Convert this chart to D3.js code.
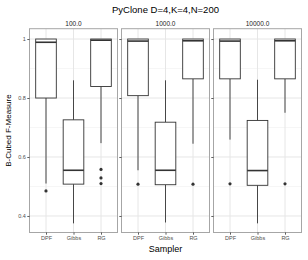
<!DOCTYPE html>
<html lang="en">
<head>
<meta charset="UTF-8">
<title>PyClone boxplots</title>
<script src="https://d3js.org/d3.v7.min.js"></script>
<style>
  body { margin: 0; background: #fff; }
  text { font-family: "Liberation Sans", Arial, sans-serif; }
</style>
</head>
<body>
<svg id="chart" width="308" height="260"></svg>
<script>
// facet labels and categories
const panels = ["100.0", "1000.0", "10000.0"];
const samplers = ["DPF", "Gibbs", "RG"];

// box stats per panel, per sampler (DPF, Gibbs, RG)
const whiskerLow = [[0.51, 0.375, 0.647], [0.555, 0.378, 0.645], [0.659, 0.375, 0.75]];
const q1 = [[0.80, 0.508, 0.839], [0.808, 0.506, 0.865], [0.865, 0.504, 0.865]];
const median = [[0.989, 0.555, 0.996], [0.993, 0.555, 0.994], [0.993, 0.554, 0.994]];
const q3 = [[1.0, 0.726, 1.0], [1.0, 0.718, 1.0], [1.0, 0.724, 1.0]];
const whiskerHigh = [[1.0, 0.86, 1.0], [1.0, 0.86, 1.0], [1.0, 0.862, 1.0]];
const outliers = [[[0.485], [], [0.558, 0.529, 0.51]], [[0.508], [], [0.508]], [[0.509], [], [0.509]]];

const yTicks = [0.4, 0.6, 0.8, 1.0];
const yMinor = [0.5, 0.7, 0.9];

const svg = d3.select("#chart");
const panelLeft = 29.5, panelW = 88, gap = 4, panelTop = 28.7, panelBottom = 232.5;

const y = d3.scaleLinear().domain([0.344, 1.035]).range([panelBottom, panelTop]);

// title
svg.append("text")
    .attr("x", 165.5).attr("y", 13)
    .attr("text-anchor", "middle")
    .style("font-size", "9.5px")
    .attr("fill", "#000")
    .text("PyClone D=4,K=4,N=200");

panels.forEach((p, pi) => {
    const x0 = panelLeft + pi * (panelW + gap);
    // 0.6 expansion on each side of the 3 categories, like ggplot
    const x = d3.scalePoint().domain(samplers).range([x0, x0 + panelW]).padding(0.6);
    const step = x.step();
    const bw = step * 0.75;

    const g = svg.append("g");

    g.append("rect").attr("x", x0).attr("y", panelTop).attr("width", panelW).attr("height", panelBottom - panelTop)
        .attr("fill", "#fff");

    // minor grid
    g.selectAll(".minor").data(yMinor).enter().append("line")
        .attr("x1", x0).attr("x2", x0 + panelW)
        .attr("y1", d => y(d)).attr("y2", d => y(d))
        .attr("stroke", "#f0f0f0").attr("stroke-width", 0.6);
    // major grid
    g.selectAll(".major").data(yTicks).enter().append("line")
        .attr("x1", x0).attr("x2", x0 + panelW)
        .attr("y1", d => y(d)).attr("y2", d => y(d))
        .attr("stroke", "#e6e6e6").attr("stroke-width", 1);
    g.selectAll(".vgrid").data(samplers).enter().append("line")
        .attr("x1", d => x(d)).attr("x2", d => x(d))
        .attr("y1", panelTop).attr("y2", panelBottom)
        .attr("stroke", "#e6e6e6").attr("stroke-width", 1);

    // boxes
    samplers.forEach((s, si) => {
        const cx = x(s);
        const col = "#333333";
        g.append("line").attr("x1", cx).attr("x2", cx)
            .attr("y1", y(q3[pi][si])).attr("y2", y(whiskerHigh[pi][si]))
            .attr("stroke", col).attr("stroke-width", 0.9);
        g.append("line").attr("x1", cx).attr("x2", cx)
            .attr("y1", y(q1[pi][si])).attr("y2", y(whiskerLow[pi][si]))
            .attr("stroke", col).attr("stroke-width", 0.9);
        g.append("rect")
            .attr("x", cx - bw / 2).attr("width", bw)
            .attr("y", y(q3[pi][si])).attr("height", y(q1[pi][si]) - y(q3[pi][si]))
            .attr("fill", "#fff").attr("stroke", col).attr("stroke-width", 0.9);
        g.append("line").attr("x1", cx - bw / 2).attr("x2", cx + bw / 2)
            .attr("y1", y(median[pi][si])).attr("y2", y(median[pi][si]))
            .attr("stroke", col).attr("stroke-width", 1.6);
        g.selectAll(null).data(outliers[pi][si]).enter().append("circle")
            .attr("cx", cx).attr("cy", d => y(d)).attr("r", 1.6)
            .attr("fill", col);
    });

    // border
    g.append("rect").attr("x", x0).attr("y", panelTop).attr("width", panelW).attr("height", panelBottom - panelTop)
        .attr("fill", "none").attr("stroke", "#a6a6a6").attr("stroke-width", 1);

    // strip label
    g.append("text").attr("x", x0 + panelW / 2).attr("y", 26)
        .attr("text-anchor", "middle").style("font-size", "6.5px").attr("fill", "#1a1a1a")
        .text(p);

    // x axis
    const xa = svg.append("g").attr("transform", `translate(0,${panelBottom})`)
        .call(d3.axisBottom(x).tickSize(2.2).tickPadding(1.5));
    xa.select(".domain").remove();
    xa.selectAll(".tick line").attr("stroke", "#333").attr("stroke-width", 0.8);
    xa.selectAll(".tick text").style("font-size", "5.5px").attr("fill", "#4d4d4d")
        .style("font-family", "Liberation Sans, Arial, sans-serif");

    // y axis ticks on every panel, labels only on first
    const ya = svg.append("g").attr("transform", `translate(${x0},0)`)
        .call(d3.axisLeft(y).tickValues(yTicks).tickSize(2.2).tickPadding(1.5)
            .tickFormat(pi === 0 ? (d => d === 1 ? "1" : d3.format(".1f")(d)) : ""));
    ya.select(".domain").remove();
    ya.selectAll(".tick line").attr("stroke", "#333").attr("stroke-width", 0.8);
    ya.selectAll(".tick text").style("font-size", "5.5px").attr("fill", "#4d4d4d")
        .style("font-family", "Liberation Sans, Arial, sans-serif");
});

// axis titles
svg.append("text")
    .attr("x", 165.5).attr("y", 252)
    .attr("text-anchor", "middle")
    .style("font-size", "9px")
    .text("Sampler");

svg.append("text")
    .attr("transform", `translate(11,${(panelTop + panelBottom) / 2}) rotate(-90)`)
    .attr("text-anchor", "middle")
    .style("font-size", "8px")
    .text("B-Cubed F-Measure");
</script>
</body>
</html>
